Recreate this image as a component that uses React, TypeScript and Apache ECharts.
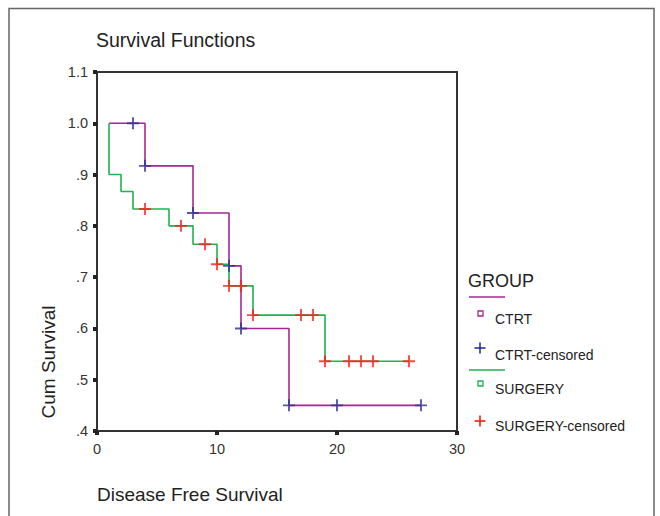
import React, { useEffect, useRef } from "react";
import * as echarts from "echarts";

// Kaplan-Meier steps (time, survival after event)
const ctrtSteps: [number, number][] = [
  [1, 1.0], [4, 0.917], [8, 0.825], [11, 0.722], [12, 0.6], [16, 0.45], [27, 0.45],
];
const surgerySteps: [number, number][] = [
  [1, 1.0], [1, 0.9], [2, 0.867], [3, 0.833], [6, 0.8], [8, 0.764], [10, 0.725],
  [11, 0.683], [13, 0.626], [19, 0.536], [26, 0.536],
];
const ctrtCensored: [number, number][] = [
  [3, 1.0], [4, 0.917], [8, 0.825], [11, 0.722], [12, 0.6], [16, 0.45], [20, 0.45], [27, 0.45],
];
const surgeryCensored: [number, number][] = [
  [4, 0.833], [7, 0.8], [9, 0.764], [10, 0.725], [11, 0.683], [12, 0.683], [13, 0.626],
  [17, 0.626], [18, 0.626], [19, 0.536], [21, 0.536], [22, 0.536], [23, 0.536], [26, 0.536],
];
const xTicks = [0, 10, 20, 30];
const yRange = [0.4, 1.1];

const PURPLE = "#a8278f";
const GREEN = "#1db350";
const BLUE = "#2e3192";
const RED = "#ff1a1a";
const FONT = "Liberation Sans, Arial, sans-serif";
const PLUS = "path://M4.2,0H5.8V10H4.2ZM0,4.2H10V5.8H0Z";

export default function App() {
  const ref = useRef<HTMLDivElement>(null);
  useEffect(() => {
    document.body.style.margin = "0";
    const chart = echarts.init(ref.current!, null, { renderer: "svg" });
    const lx = 469;
    chart.setOption({
      animation: false,
      backgroundColor: "#fff",
      textStyle: { fontFamily: FONT },
      grid: {
        left: 97, top: 72, width: 360, height: 359,
        show: true, borderColor: "#333", borderWidth: 2,
      },
      xAxis: {
        type: "value", min: xTicks[0], max: xTicks[xTicks.length - 1], interval: 10,
        axisLine: { show: true, lineStyle: { color: "#333", width: 2 } },
        axisTick: { show: true, length: 4, lineStyle: { color: "#222", width: 4 } },
        splitLine: { show: false },
        axisLabel: { color: "#333", fontSize: 14.5, margin: 10, fontFamily: FONT },
      },
      yAxis: {
        type: "value", min: yRange[0], max: yRange[1], interval: 0.1,
        axisLine: { show: true, lineStyle: { color: "#333", width: 2 } },
        axisTick: { show: true, length: 4, lineStyle: { color: "#222", width: 4 } },
        splitLine: { show: false },
        axisLabel: {
          color: "#333", fontSize: 14.5, margin: 9, fontFamily: FONT,
          formatter: (v: number) => {
            const s = v.toFixed(1);
            return s.startsWith("0") ? s.slice(1) : s;
          },
        },
      },
      series: [
        {
          type: "line", step: "end", data: ctrtSteps, showSymbol: false, symbol: "none",
          lineStyle: { color: PURPLE, width: 1.6 }, z: 2,
        },
        {
          type: "line", step: "end", data: surgerySteps, showSymbol: false, symbol: "none",
          lineStyle: { color: GREEN, width: 1.6 }, z: 3,
        },
        {
          type: "scatter", data: ctrtCensored, symbol: PLUS, symbolSize: 12,
          itemStyle: { color: BLUE }, z: 4,
        },
        {
          type: "scatter", data: surgeryCensored, symbol: PLUS, symbolSize: 12,
          itemStyle: { color: RED }, z: 4,
        },
      ],
      graphic: [
        { type: "rect", shape: { x: 9, y: 8.5, width: 645, height: 520 }, style: { fill: "none", stroke: "#666", lineWidth: 1.5 }, z: -1 },
        { type: "text", x: 96, y: 40, style: { text: "Survival Functions", fill: "#222", font: `19.5px ${FONT}`, textVerticalAlign: "middle" } },
        { type: "text", x: 97, y: 494, style: { text: "Disease Free Survival", fill: "#222", font: `19px ${FONT}`, textVerticalAlign: "middle" } },
        { type: "text", x: 48, y: 362, rotation: Math.PI / 2, style: { text: "Cum Survival", fill: "#222", font: `19px ${FONT}`, textAlign: "center", textVerticalAlign: "middle" } },
        { type: "text", x: lx - 1, y: 281, style: { text: "GROUP", fill: "#222", font: `18px ${FONT}`, textVerticalAlign: "middle" } },
        { type: "line", shape: { x1: lx, y1: 297, x2: lx + 36, y2: 297 }, style: { stroke: PURPLE, lineWidth: 1.5 } },
        { type: "rect", shape: { x: 478, y: 311, width: 5, height: 5 }, style: { fill: "none", stroke: PURPLE, lineWidth: 1.3 } },
        { type: "text", x: 495, y: 319, style: { text: "CTRT", fill: "#222", font: `14px ${FONT}`, textVerticalAlign: "middle" } },
        { type: "line", shape: { x1: 474.5, y1: 348, x2: 485.5, y2: 348 }, style: { stroke: BLUE, lineWidth: 1.6 } },
        { type: "line", shape: { x1: 480, y1: 342.5, x2: 480, y2: 353.5 }, style: { stroke: BLUE, lineWidth: 1.6 } },
        { type: "text", x: 495, y: 355, style: { text: "CTRT-censored", fill: "#222", font: `14px ${FONT}`, textVerticalAlign: "middle" } },
        { type: "line", shape: { x1: lx, y1: 370, x2: lx + 36, y2: 370 }, style: { stroke: GREEN, lineWidth: 1.5 } },
        { type: "rect", shape: { x: 478, y: 381, width: 5, height: 5 }, style: { fill: "none", stroke: GREEN, lineWidth: 1.3 } },
        { type: "text", x: 495, y: 389, style: { text: "SURGERY", fill: "#222", font: `14px ${FONT}`, textVerticalAlign: "middle" } },
        { type: "line", shape: { x1: 474.5, y1: 421, x2: 485.5, y2: 421 }, style: { stroke: RED, lineWidth: 1.6 } },
        { type: "line", shape: { x1: 480, y1: 415.5, x2: 480, y2: 426.5 }, style: { stroke: RED, lineWidth: 1.6 } },
        { type: "text", x: 495, y: 426, style: { text: "SURGERY-censored", fill: "#222", font: `14px ${FONT}`, textVerticalAlign: "middle" } },
      ],
    });
    return () => chart.dispose();
  }, []);
  return <div ref={ref} style={{ width: 660, height: 516 }} />;
}
